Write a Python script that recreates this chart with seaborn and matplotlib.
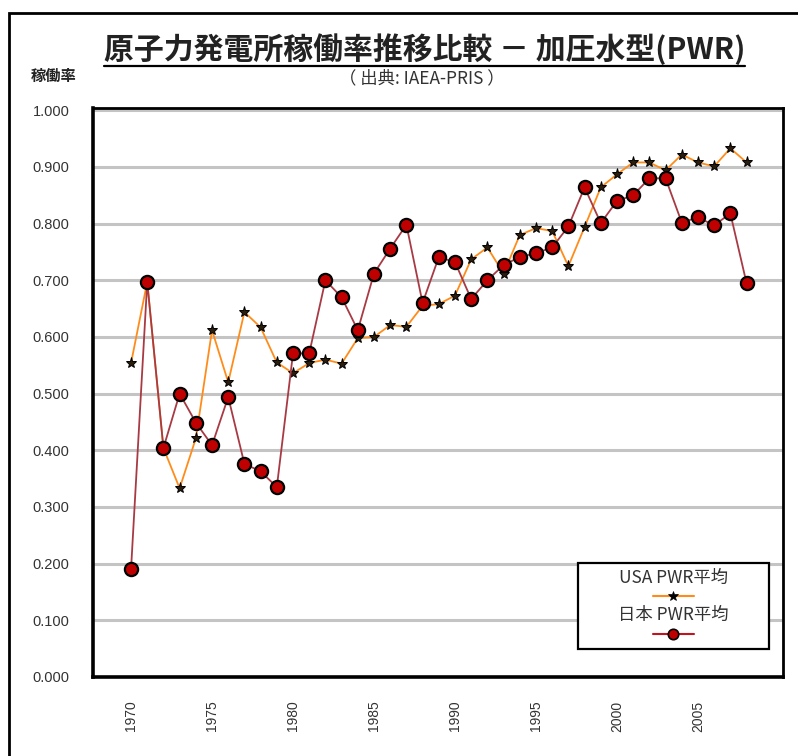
import matplotlib

matplotlib.use("Agg")

import matplotlib.pyplot as plt
import pandas as pd
import seaborn as sns
from matplotlib.lines import Line2D
from matplotlib.patches import Rectangle
from matplotlib.offsetbox import AnchoredOffsetbox, DrawingArea, TextArea, VPacker
from matplotlib.ticker import FuncFormatter, MultipleLocator


YEARS = list(range(1970, 2009))
USA_PWR = [
    0.554, 0.697, 0.404, 0.333, 0.421, 0.612, 0.520, 0.644, 0.617, 0.555,
    0.536, 0.554, 0.560, 0.553, 0.598, 0.600, 0.621, 0.618, 0.655, 0.658,
    0.673, 0.737, 0.758, 0.712, 0.780, 0.792, 0.787, 0.725, 0.794, 0.864,
    0.887, 0.908, 0.908, 0.894, 0.922, 0.908, 0.901, 0.933, 0.908,
]
JAPAN_PWR = [
    0.190, 0.697, 0.404, 0.500, 0.449, 0.409, 0.494, 0.376, 0.363, 0.335,
    0.571, 0.571, 0.700, 0.670, 0.612, 0.712, 0.756, 0.798, 0.660, 0.741,
    0.732, 0.667, 0.700, 0.727, 0.741, 0.748, 0.758, 0.795, 0.864, 0.801,
    0.840, 0.850, 0.880, 0.880, 0.802, 0.811, 0.797, 0.818, 0.695,
]
Y_TICKS = [0.0, 0.1, 0.2, 0.3, 0.4, 0.5, 0.6, 0.7, 0.8, 0.9, 1.0]
LABEL_USA = "USA PWR平均"
LABEL_JP = "日本 PWR平均"
TITLE = "原子力発電所稼働率推移比較 － 加圧水型(PWR)"
SUBTITLE = "（ 出典: IAEA-PRIS ）"
Y_LABEL = "稼働率"

USA_LINE = "#ff8c1a"
JP_LINE = "#a83a44"
JP_FACE = "#c00000"
TEXT = "#333333"


def sample_line(color, marker, ms, face, edge, mew):
    da = DrawingArea(29, 10, 0, 0)
    da.add_artist(Line2D([0, 29], [5, 5], color=color, linewidth=1.5))
    da.add_artist(Line2D([14.5], [5], marker=marker, markersize=ms, markerfacecolor=face,
                         markeredgecolor=edge, markeredgewidth=mew, linestyle="none"))
    return da


sns.set_style("white")
plt.rcParams["font.family"] = ["Noto Sans CJK JP", "DejaVu Sans"]

df = pd.DataFrame({"year": YEARS, "usa": USA_PWR, "japan": JAPAN_PWR})

fig = plt.figure(figsize=(7.98, 7.56), dpi=100)
ax = fig.add_axes([0.1165, 0.1045, 0.8647, 0.7526])

sns.lineplot(data=df, x="year", y="usa", ax=ax, color=USA_LINE, linewidth=1.3,
             marker="*", markersize=8, markerfacecolor="#2b1d0e", markeredgecolor="black",
             markeredgewidth=0.7, legend=False, zorder=3)
sns.lineplot(data=df, x="year", y="japan", ax=ax, color=JP_LINE, linewidth=1.3,
             marker="o", markersize=9.5, markerfacecolor=JP_FACE, markeredgecolor="black",
             markeredgewidth=1.6, legend=False, zorder=4)

ax.set_xlim(1967.65, 2010.25)
ax.set_ylim(0, 1.004)
ax.set_yticks(Y_TICKS)
ax.yaxis.set_major_formatter(FuncFormatter(lambda v, _p: f"{v:.3f}"))
ax.xaxis.set_major_locator(MultipleLocator(1))
ax.set_xticks(YEARS)
ax.xaxis.set_major_formatter(FuncFormatter(lambda v, _p: f"{int(round(v))}" if round(v) % 5 == 0 else ""))
ax.set_xlabel("")
ax.set_ylabel("")

ax.yaxis.grid(True, color="#c4c4c4", linewidth=2.2)
ax.xaxis.grid(False)
ax.set_axisbelow(True)
for side, lw in [("left", 2.6), ("bottom", 2.6), ("top", 2.0), ("right", 2.0)]:
    ax.spines[side].set_color("black")
    ax.spines[side].set_linewidth(lw)

ax.tick_params(axis="x", direction="in", length=11, width=1.6, color="black", pad=17,
               labelsize=10, labelcolor=TEXT, labelrotation=90)
ax.tick_params(axis="y", length=0, pad=17, labelsize=10.5, labelcolor=TEXT)
for lab in ax.get_xticklabels() + ax.get_yticklabels():
    lab.set_family(["Liberation Sans", "DejaVu Sans"])

# legend box: label text sits above each line sample
rows = [
    TextArea(LABEL_USA, textprops=dict(fontsize=12.5, color=TEXT)),
    sample_line(USA_LINE, "*", 7, "black", "black", 0.5),
    TextArea(LABEL_JP, textprops=dict(fontsize=12.5, color=TEXT)),
    sample_line("#c0141e", "o", 7.5, JP_FACE, "black", 1.2),
    DrawingArea(130, 0, 0, 0),
]
box = AnchoredOffsetbox(loc="lower right", child=VPacker(children=rows, align="center", pad=0, sep=2),
                        pad=0.4, borderpad=0, frameon=True,
                        bbox_to_anchor=(0.98, 0.049), bbox_transform=ax.transAxes)
box.patch.set_edgecolor("black")
box.patch.set_linewidth(1.6)
box.patch.set_boxstyle("square", pad=0)
ax.add_artist(box)

title = fig.text(0.532, 0.935, TITLE, ha="center", va="center", fontsize=21.5, fontweight="bold", color="#222222")
fig.text(0.528, 0.896, SUBTITLE, ha="center", va="center", fontsize=12.5, color=TEXT)
fig.text(0.038, 0.899, Y_LABEL, ha="left", va="center", fontsize=11, fontweight="bold", color="#222222")

# outer frame of the original sheet
fig.add_artist(Rectangle((9 / 798, -0.2), 1.2, 1.2 - 13 / 756, transform=fig.transFigure,
                         fill=False, edgecolor="black", linewidth=2, clip_on=False))

fig.canvas.draw()
bb = title.get_window_extent()
W, H = fig.bbox.width, fig.bbox.height
uy = (bb.y0 - 1) / H
fig.add_artist(Line2D([bb.x0 / W, bb.x1 / W], [uy, uy], transform=fig.transFigure, color="black", linewidth=1.6))

fig.savefig("out.png", dpi=100, facecolor="white")
